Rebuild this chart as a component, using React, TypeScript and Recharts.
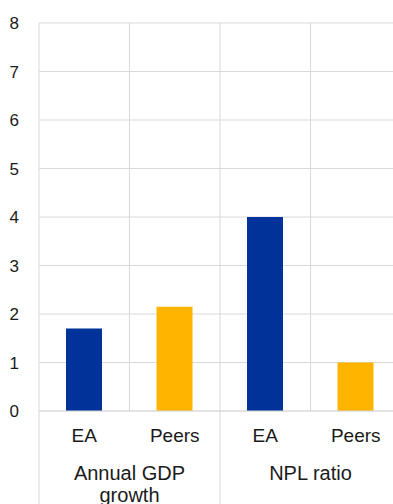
import { BarChart, Bar, XAxis, YAxis, CartesianGrid, ReferenceLine, Cell } from 'recharts'

const categories = ['EA', 'Peers', 'EA', 'Peers']
const groups = [['Annual GDP', 'growth'], ['NPL ratio']]
const values = [1.7, 2.15, 4.0, 1.0]
const yTicks = [0, 1, 2, 3, 4, 5, 6, 7, 8]

const BLUE = '#003299'
const YELLOW = '#ffb400'
const GRID = '#d9d9d9'
const TEXT = '#1a1a1a'
const FONT = '"Liberation Sans", Arial, sans-serif'

const CHART_W = 402
const CHART_H = 504

const data = categories.map((name, i) => ({
    key: `${Math.floor(i / 2)}-${name}`,
    name,
    value: values[i]
}))

// category label under each bar, plus the group label and separator below each pair
function CategoryTick({ x, y, payload, index }: any) {
    const half = payload?.offset ?? 45
    const isGroupStart = index % 2 === 0
    const group = groups[Math.floor(index / 2)]

    return (
        <g>
            <text x={x} y={y + 31} textAnchor="middle" fill={TEXT} fontSize={19} fontFamily={FONT}>
                {categories[index]}
            </text>
            {isGroupStart && (
                <>
                    <line x1={x - half} x2={x - half} y1={y} y2={CHART_H} stroke={GRID} />
                    <text x={x + half} y={y + 69} textAnchor="middle" fill={TEXT} fontSize={20} fontFamily={FONT}>
                        {group.map((line, j) => (
                            <tspan key={j} x={x + half} dy={j === 0 ? 0 : 22}>{line}</tspan>
                        ))}
                    </text>
                </>
            )}
        </g>
    )
}

export default function App() {
    return (
        <div style={{ position: 'absolute', left: 0, top: 0, width: 393, height: CHART_H, overflow: 'hidden', background: '#fff' }}>
            <BarChart
                width={CHART_W}
                height={CHART_H}
                data={data}
                margin={{ top: 23, right: 1, left: 0, bottom: 0 }}
            >
                <CartesianGrid vertical={false} stroke={GRID} />
                {data.slice(1).map((d) => (
                    <ReferenceLine key={d.key} x={d.key} position="start" stroke={GRID} />
                ))}
                <XAxis
                    dataKey="key"
                    height={93}
                    interval={0}
                    tickLine={false}
                    tickSize={0}
                    tickMargin={0}
                    axisLine={{ stroke: GRID }}
                    tick={<CategoryTick />}
                />
                <YAxis
                    width={39}
                    domain={[0, 8]}
                    ticks={yTicks}
                    interval={0}
                    tickLine={false}
                    tickSize={6}
                    tickMargin={14}
                    axisLine={{ stroke: GRID }}
                    tick={{ fill: TEXT, fontSize: 17, fontFamily: FONT }}
                />
                <Bar dataKey="value" barSize={36} isAnimationActive={false}>
                    {data.map((d, i) => (
                        <Cell key={d.key} fill={i % 2 === 0 ? BLUE : YELLOW} />
                    ))}
                </Bar>
            </BarChart>
        </div>
    )
}
